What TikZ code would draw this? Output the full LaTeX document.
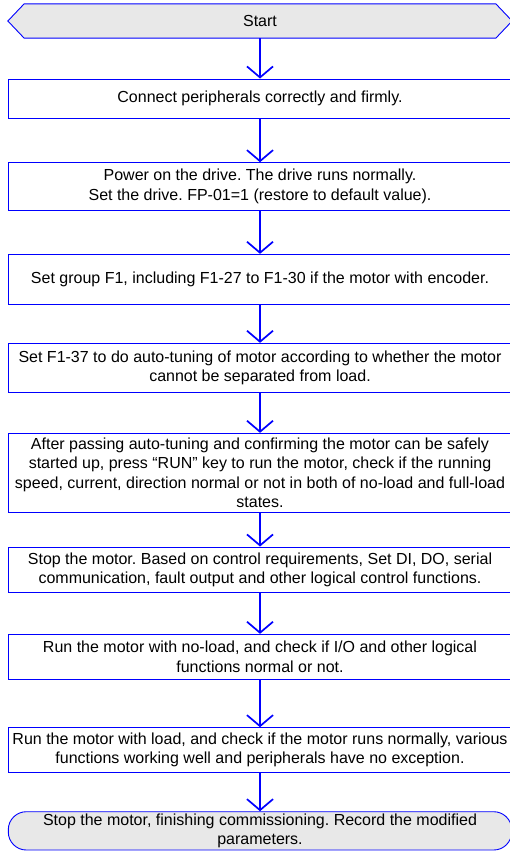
\documentclass[tikz,border=0pt]{standalone}
\usepackage{fontspec}
\setmainfont{Liberation Sans}
\usetikzlibrary{arrows.meta,backgrounds}
\frenchspacing

\begin{document}
\begin{tikzpicture}[x=1pt,y=-1pt,
  stepbox/.style={draw=blue, line width=0.9pt, rectangle, minimum width=503.4pt, inner sep=0pt, align=center, font=\fontsize{16}{19.5}\selectfont},
  termfill/.style={fill=black!9, draw=blue, line width=0.9pt},
  flow/.style={-{Straight Barb[length=11pt,width=26pt]}, draw=blue, line width=1.7pt}]
\useasboundingbox (0,0) rectangle (509,851);
\node[stepbox, draw=none, minimum height=33.4pt] (start) at (260,21) {Start};
\node[stepbox, minimum height=39.7pt] (conn) at (260,98.85) {Connect peripherals correctly and firmly.};
\node[stepbox, minimum height=47.3pt] (power) at (260,186.35) {Power on the drive. The drive runs normally.\\Set the drive. FP-01=1 (restore to default value).};
\node[stepbox, minimum height=50pt] (grp) at (260,279.3) {Set group F1, including F1-27 to F1-30 if the motor with encoder.};
\node[stepbox, minimum height=49pt] (tune) at (260,367.8) {Set F1-37 to do auto-tuning of motor according to whether the motor\\cannot be separated from load.};
\node[stepbox, minimum height=79pt] (run) at (260,472.8) {After passing auto-tuning and confirming the motor can be safely\\started up, press “RUN” key to run the motor, check if the running\\speed, current, direction normal or not in both of no-load and full-load\\states.};
\node[stepbox, minimum height=45.7pt] (io) at (260,569.85) {Stop the motor. Based on control requirements, Set DI, DO, serial\\communication, fault output and other logical control functions.};
\node[stepbox, minimum height=45pt] (noload) at (260,656.8) {Run the motor with no-load, and check if I/O and other logical\\functions normal or not.};
\node[stepbox, minimum height=44.6pt] (load) at (260,750) {Run the motor with load, and check if the motor runs normally, various\\functions working well and peripherals have no exception.};
\node[stepbox, termfill, rounded corners=18pt, minimum height=38.3pt] (stop) at (260,830.85) {Stop the motor, finishing commissioning. Record the modified\\parameters.};
% start box outline
\begin{scope}[on background layer]
\draw[termfill] (start.west) -- ([xshift=16.3pt]start.north west) -- ([xshift=-16.3pt]start.north east) -- (start.east) -- ([xshift=-16.3pt]start.south east) -- ([xshift=16.3pt]start.south west) -- cycle;
\end{scope}
\draw[flow] (start.south) -- (conn.north);
\draw[flow] (conn.south) -- (power.north);
\draw[flow] (power.south) -- (grp.north);
\draw[flow] (grp.south) -- (tune.north);
\draw[flow] (tune.south) -- (run.north);
\draw[flow] (run.south) -- (io.north);
\draw[flow] (io.south) -- (noload.north);
\draw[flow] (noload.south) -- (load.north);
\draw[flow] (load.south) -- (stop.north);
\end{tikzpicture}
\end{document}
